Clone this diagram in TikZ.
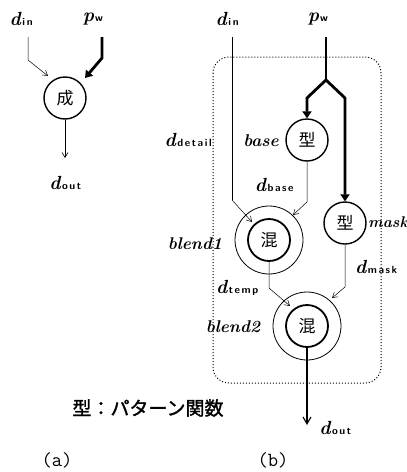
\documentclass[tikz,border=0pt]{standalone}
\usepackage{fontspec}
\newfontfamily\cjk{Noto Sans CJK JP}
\newfontfamily\cjkb[FakeBold=1.5]{Noto Sans CJK JP}
\usetikzlibrary{arrows.meta}
\def\spc#1{\ifx#1\relax\else#1\kern1.6pt\expandafter\spc\fi}
\newcommand{\dl}[1]{{\fontsize{19}{19}\selectfont\bfseries\itshape d}\kern1.5pt{\fontsize{10.5}{10.5}\selectfont\bfseries\sffamily\spc#1\relax}}
\newcommand{\pl}{{\fontsize{19}{19}\selectfont\bfseries\itshape p}\kern1pt{\fontsize{10.5}{10.5}\selectfont\bfseries\sffamily w}}
\begin{document}
\begin{tikzpicture}[x=1pt,y=-1pt,
  lab/.style={inner sep=0pt},
  fnname/.style={inner sep=0pt,font=\fontsize{17}{17}\selectfont\bfseries\itshape},
  fn/.style={circle,draw,line width=1.4pt,minimum size=42pt,inner sep=0pt,font=\cjk\fontsize{17}{17}\selectfont},
  outring/.style={circle,draw,line width=0.8pt,minimum size=68pt,inner sep=0pt},
  thinarrow/.style={line width=0.5pt,-{Straight Barb[length=5pt,width=6pt]}},
  thickarrow/.style={line width=2.8pt,-{Triangle[length=7pt,width=9pt]}},
  thickline/.style={line width=2.8pt},
  outarrow/.style={line width=1.1pt,-{Straight Barb[length=7pt,width=8pt,line width=1.1pt]}}]
\useasboundingbox (0,0) rectangle (407,472);
% ---------- (a)
\node[lab] (ain) at (22,19) {\dl{in}};
\node[lab] (apw) at (93,19) {\pl};
\node[fn] (sei) at (65,98) {成};
\coordinate (a1) at (28,37); \coordinate (a2) at (28,60); \coordinate (a3) at (48,76);
\draw[thinarrow] (a1) -- (a2) -- (a3);
\coordinate (p1) at (102,37); \coordinate (p2) at (102,58); \coordinate (p3) at (85,78);
\draw[thickarrow] (p1) -- (p2) -- (p3);
\coordinate (aout) at (65,158);
\draw[thinarrow,line width=0.6pt] (sei.south) -- (aout);
\node[lab] (aoutl) at (66,183) {\dl{out}};
% ---------- (b)
\draw[line width=1pt,dash pattern=on 1pt off 2pt,rounded corners=16pt] (213,57) rectangle (381,383);
\node[lab] (bin) at (228,19) {\dl{in}};
\node[lab] (bpw) at (318,19) {\pl};
\node[fn] (base) at (307,140) {型};
\node[fn] (mask) at (345,223) {型};
\node[outring] (b1o) at (269,240) {};
\node[fn,line width=1.8pt] (b1) at (269,240) {混};
\node[outring] (b2o) at (307,326) {};
\node[fn,line width=1.8pt] (b2) at (307,326) {混};
% labels
\node[lab] (ldet) at (189,140) {\dl{detail}};
\node[fnname] (lbase) at (261,141) {base};
\node[lab] (ldbase) at (275,185) {\dl{base}};
\node[fnname,anchor=west,font=\fontsize{15.5}{15.5}\selectfont\bfseries\itshape] (lmask) at (368,222) {mask};
\node[lab] (ldmask) at (377,267) {\dl{mask}};
\node[fnname] (lb1) at (195,244) {blend1};
\node[lab] (ldtemp) at (238,288) {\dl{temp}};
\node[fnname] (lb2) at (233,327) {blend2};
% connectors
\coordinate (i1) at (232,37); \coordinate (i2) at (232,200); \coordinate (i3) at (252,222);
\draw[line width=0.8pt] (i1) -- (i2);
\draw[thinarrow] (i2) -- (i3);
\coordinate (w1) at (326,37); \coordinate (w2) at (326,80);
\coordinate (wl) at (307,98); \coordinate (wr) at (345,98);
\draw[thickline,line join=miter] (w1) -- (w2);
\draw[thickarrow,line join=miter] (w2) -- (wl) -- (base.north);
\draw[thickarrow,line join=miter] (w2) -- (wr) -- (mask.north);
\coordinate (s1) at (307,202); \coordinate (s2) at (293,215);
\draw[thinarrow] (base.south) -- (s1) -- (s2);
\coordinate (m1) at (345,287); \coordinate (m2) at (332,298);
\draw[thinarrow] (mask.south) -- (m1) -- (m2);
\coordinate (t1) at (269,288); \coordinate (t2) at (290,306);
\draw[thinarrow] (b1.south) -- (t1) -- (t2);
\coordinate (bout) at (307,425);
\draw[outarrow] (b2.south) -- (bout);
\node[lab] (boutl) at (336,428) {\dl{out}};
% legend & captions
\node[lab,font=\cjkb\fontsize{19}{19}\selectfont] (legend) at (148,408) {型：パターン関数};
\node[lab,font=\ttfamily\fontsize{20}{20}\selectfont] (capa) at (57,460) {(a)};
\node[lab,font=\ttfamily\fontsize{20}{20}\selectfont] (capb) at (273,460) {(b)};
\end{tikzpicture}
\end{document}
